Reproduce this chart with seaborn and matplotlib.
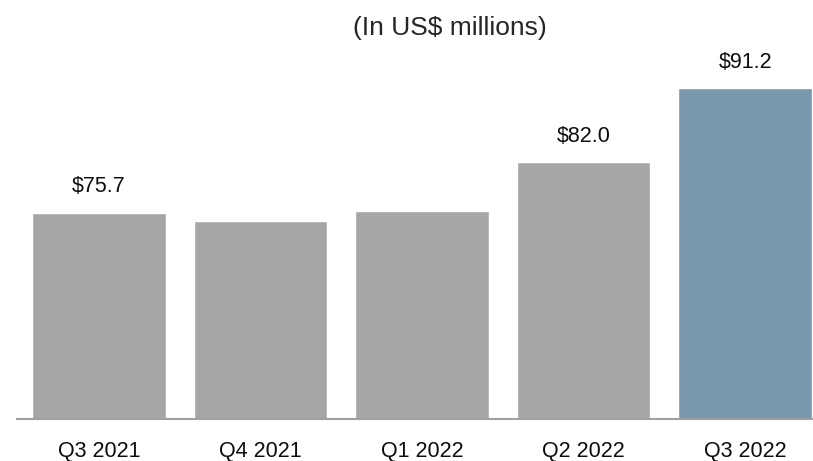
import matplotlib
matplotlib.use("Agg")
import matplotlib.pyplot as plt
import seaborn as sns
import pandas as pd

categories = ["Q3 2021", "Q4 2021", "Q1 2022", "Q2 2022", "Q3 2022"]
values = [75.7, 74.6, 75.9, 82.0, 91.2]
labels = ["$75.7", "", "", "$82.0", "$91.2"]
colors = ["#A6A6A6", "#A6A6A6", "#A6A6A6", "#A6A6A6", "#7A98AD"]
title = "(In US$ millions)"

sns.set_theme(style="white")
plt.rcParams['font.family'] = ['Liberation Sans', 'DejaVu Sans']

df = pd.DataFrame({"cat": categories, "val": values})

W, H = 813, 461
fig = plt.figure(figsize=(W / 100, H / 100), dpi=100)
base_px = 419
ax = fig.add_axes([17 / W, 1 - base_px / H, 1 - 17 / W, base_px / H])

sns.barplot(data=df, x="cat", y="val", hue="cat", palette=colors, legend=False,
            width=0.827, ax=ax, saturation=1)

ymin = 50
scale = 8.03
ax.set_ylim(ymin, ymin + base_px / scale)
ax.set_xlim(-0.506, 4.42)

for i, (v, lab) in enumerate(zip(values, labels)):
    if lab:
        ax.annotate(lab.replace("$", r"\$"), (i, v), xytext=(0, 18.7), textcoords="offset points",
                    ha="center", va="center", fontsize=15.5, color="#0d0d0d")

ax.set_xlabel("")
ax.set_ylabel("")
ax.set_yticks([])
ax.tick_params(axis="x", length=0, pad=15.5, labelsize=15.5, labelcolor="#0d0d0d")
for s in ["top", "right", "left"]:
    ax.spines[s].set_visible(False)
ax.spines["bottom"].set_color("#A0A0A0")
ax.spines["bottom"].set_linewidth(1.5)

fig.text(450 / W, 1 - 28 / H, title, ha="center", va="center", fontsize=19, color="#262626")

fig.savefig("out.png", dpi=100)
